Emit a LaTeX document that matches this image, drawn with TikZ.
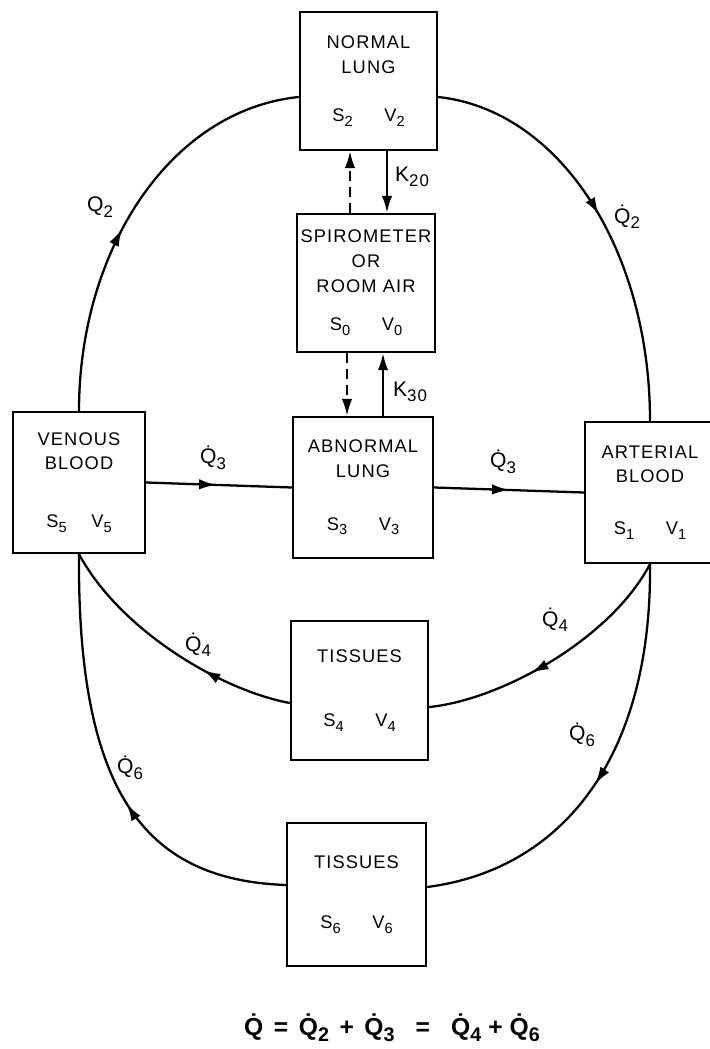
\documentclass[tikz,border=0pt]{standalone}
\usepackage{fontspec}
\setmainfont{Liberation Sans}[LetterSpace=6]
\usetikzlibrary{arrows.meta,decorations.markings}
\newcommand{\idx}[1]{\raisebox{-0.5ex}{\scalebox{0.8}{#1}}}
\newcommand{\qdot}[1]{\.{Q}\idx{#1}}
\begin{document}
\begin{tikzpicture}[x=0.01cm, y=-0.01cm, >={Latex[length=1.7mm,width=1.05mm]}, line width=0.65pt,
  box/.style={draw, minimum width=1.37cm, minimum height=1.39cm, align=center, inner sep=0pt, font=\fontsize{5.2}{7}\selectfont},
  lbl/.style={inner sep=0pt, font=\fontsize{6}{7}\selectfont},
  exch/.style={dash pattern=on 1mm off 0.6mm},
  flowmark/.style={postaction={decorate, decoration={markings, mark=at position #1 with {\arrow{>}}}}}]
\useasboundingbox (0,0) rectangle (710,1049);
\clip (0,0) rectangle (710,1049);
% compartments
\node[box, minimum height=1.38cm] (normal) at (368.5,81) {NORMAL\\LUNG\\[6.7pt]S\idx{2}\hspace{9pt}V\idx{2}};
\node[box, minimum width=1.38cm, minimum height=1.38cm] (spiro) at (366,283) {SPIROMETER\\OR\\ROOM AIR\\[4pt]S\idx{0}\hspace{9pt}V\idx{0}};
\node[box, minimum width=1.40cm, minimum height=1.41cm] (abnormal) at (363,487.5) {ABNORMAL\\LUNG\\[8pt]S\idx{3}\hspace{9pt}V\idx{3}};
\node[box, minimum width=1.32cm, minimum height=1.41cm] (venous) at (79,482.5) {VENOUS\\BLOOD\\[9.5pt]S\idx{5}\hspace{7pt}V\idx{5}};
\node[box, minimum width=1.30cm, minimum height=1.41cm] (arterial) at (650,492.5) {ARTERIAL\\BLOOD\\[7.8pt]S\idx{1}\hspace{9pt}V\idx{1}};
\node[box] (tisA) at (359.5,690.5) {TISSUES\\[11.2pt]S\idx{4}\hspace{9pt}V\idx{4}};
\node[box, minimum width=1.39cm, minimum height=1.43cm] (tisB) at (356.5,894.5) {TISSUES\\[10pt]S\idx{6}\hspace{9pt}V\idx{6}};
% blood flow
\draw[flowmark=0.45] (venous.north) .. controls (79,250) and (170,110) .. ([yshift=-1.6mm]normal.west);
\draw[flowmark=0.49] ([yshift=-1.6mm]normal.east) .. controls (560,110) and (650,250) .. (arterial.north);
\draw[flowmark=0.48] (venous.east) -- (abnormal.west);
\draw[flowmark=0.5] (abnormal.east) -- (arterial.west);
\draw[flowmark=0.6] (arterial.south) .. controls (610,640) and (500,700) .. ([yshift=-1.65mm]tisA.east);
\draw[flowmark=0.35] ([yshift=-1.25mm]tisA.west) .. controls (220,690) and (120,630) .. (venous.south);
\draw[flowmark=0.53] (arterial.south) .. controls (652,760) and (560,870) .. ([yshift=0.75mm]tisB.east);
\draw[flowmark=0.42] ([yshift=0.95mm]tisB.west) .. controls (150,880) and (77,800) .. (venous.south);
% gas exchange
\draw[->, exch] ([xshift=-1.6mm]spiro.north) -- ([xshift=-1.6mm]spiro.north |- normal.south);
\draw[->] ([xshift=2.1mm]spiro.north |- normal.south) -- ([xshift=2.1mm]spiro.north);
\draw[->, exch] ([xshift=-1.6mm]abnormal.north |- spiro.south) -- ([xshift=-1.6mm]abnormal.north);
\draw[->] ([xshift=2mm]abnormal.north) -- ([xshift=2mm]abnormal.north |- spiro.south);
% labels
\node[lbl] (k20) at (412,177) {K\idx{20}};
\node[lbl] (k30) at (410,392) {K\idx{30}};
\node[lbl] (q2a) at (100,207) {Q\idx{2}};
\node[lbl] (q2b) at (627,217) {\qdot{2}};
\node[lbl] (q3a) at (213,458) {\qdot{3}};
\node[lbl] (q3b) at (503,462) {\qdot{3}};
\node[lbl] (q4a) at (198,645) {\qdot{4}};
\node[lbl] (q4b) at (555,620) {\qdot{4}};
\node[lbl] (q6a) at (130,768) {\qdot{6}};
\node[lbl] (q6b) at (582,735) {\qdot{6}};
\node[lbl, font=\fontsize{7}{8}\selectfont\bfseries] (balance) at (392,1028)
  {\.{Q}\hspace{3pt}=\hspace{3pt}\qdot{2}\hspace{3pt}+\hspace{3pt}\qdot{3}\hspace{6pt}=\hspace{6pt}\qdot{4}\hspace{2pt}+\hspace{2pt}\qdot{6}};
\end{tikzpicture}
\end{document}
